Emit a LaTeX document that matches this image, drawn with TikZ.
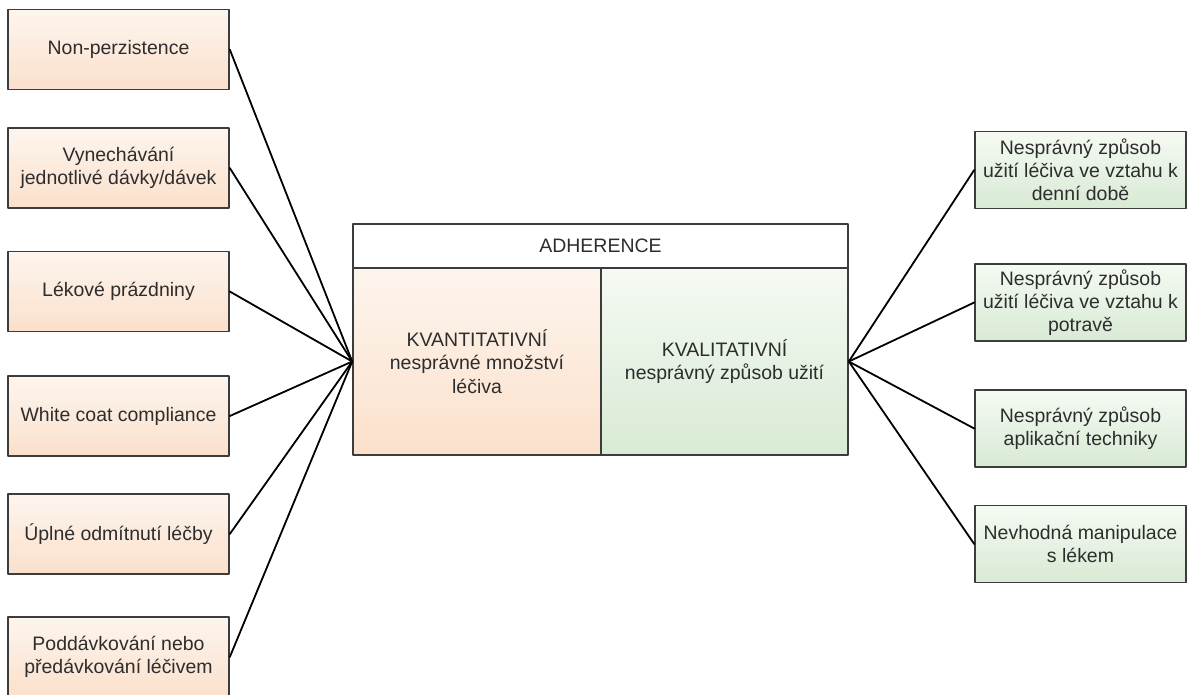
\documentclass[tikz,border=0pt]{standalone}
\usepackage{fontspec}
\setmainfont{Liberation Sans}
\usetikzlibrary{positioning}
\definecolor{orTop}{RGB}{253,245,238}
\definecolor{orBot}{RGB}{251,224,203}
\definecolor{grTop}{RGB}{245,250,243}
\definecolor{grBot}{RGB}{216,234,212}
\definecolor{edge}{RGB}{60,60,60}
\definecolor{txt}{RGB}{45,45,45}

\begin{document}
\begin{tikzpicture}[
    x=0.75pt,y=-0.75pt,
    line cap=round,
    line join=round,
    every node/.style={font=\fontsize{14.6}{17.4}\selectfont,text=txt},
    box/.style={
        rectangle,
        draw=edge,
        line width=1.2pt,
        align=center,
        inner sep=2pt
    },
    leftbox/.style={
        box,
        top color=orTop,
        bottom color=orBot,
        minimum width=165.75pt,
        minimum height=60pt
    },
    rightbox/.style={
        box,
        top color=grTop,
        bottom color=grBot,
        minimum width=158.25pt,
        minimum height=57.5pt
    },
    link/.style={line width=1.35pt,draw=black}
]

\useasboundingbox (0,0) rectangle (1187,694);

% ============================================================
% ADHERENCE
% ============================================================

\node[box,fill=white,minimum width=371.25pt,minimum height=33pt]
    (adh) at (600.5,246) {ADHERENCE};

\node[box,top color=orTop,bottom color=orBot,
      minimum width=186pt,minimum height=140.25pt]
    (kvant) at (477,361.5)
    {KVANTITATIVNÍ\\nesprávné množství\\léčiva};

\node[box,top color=grTop,bottom color=grBot,
      minimum width=185.25pt,minimum height=140.25pt]
    (kval) at (724.5,361.5)
    {KVALITATIVNÍ\\nesprávný způsob užití};

% ============================================================
% kvantitativní
% ============================================================

\node[leftbox] (perz) at (118.5,49.5) {Non-perzistence};
\node[leftbox] (vyne) at (118.5,168) {Vynechávání\\jednotlivé dávky/dávek};
\node[leftbox] (prazd) at (118.5,291.5) {Lékové prázdniny};
\node[leftbox] (white) at (118.5,416) {White coat compliance};
\node[leftbox] (odmit) at (118.5,534) {Úplné odmítnutí léčby};
\node[leftbox] (poddav) at (118.5,657) {Poddávkování nebo\\předávkování léčivem};

\foreach \n in {perz,vyne,prazd,white,odmit,poddav}
    \draw[link] (\n.east) -- (kvant.west);

% ============================================================
% kvalitativní
% ============================================================

\node[rightbox] (denni) at (1080.5,170)
    {Nesprávný způsob\\užití léčiva ve vztahu k\\denní době};
\node[rightbox] (potrava) at (1080.5,302.5)
    {Nesprávný způsob\\užití léčiva ve vztahu k\\potravě};
\node[rightbox] (aplik) at (1080.5,428.5)
    {Nesprávný způsob\\aplikační techniky};
\node[rightbox] (manip) at (1080.5,544)
    {Nevhodná manipulace\\s lékem};

\foreach \n in {denni,potrava,aplik,manip}
    \draw[link] (kval.east) -- (\n.west);

\end{tikzpicture}
\end{document}
